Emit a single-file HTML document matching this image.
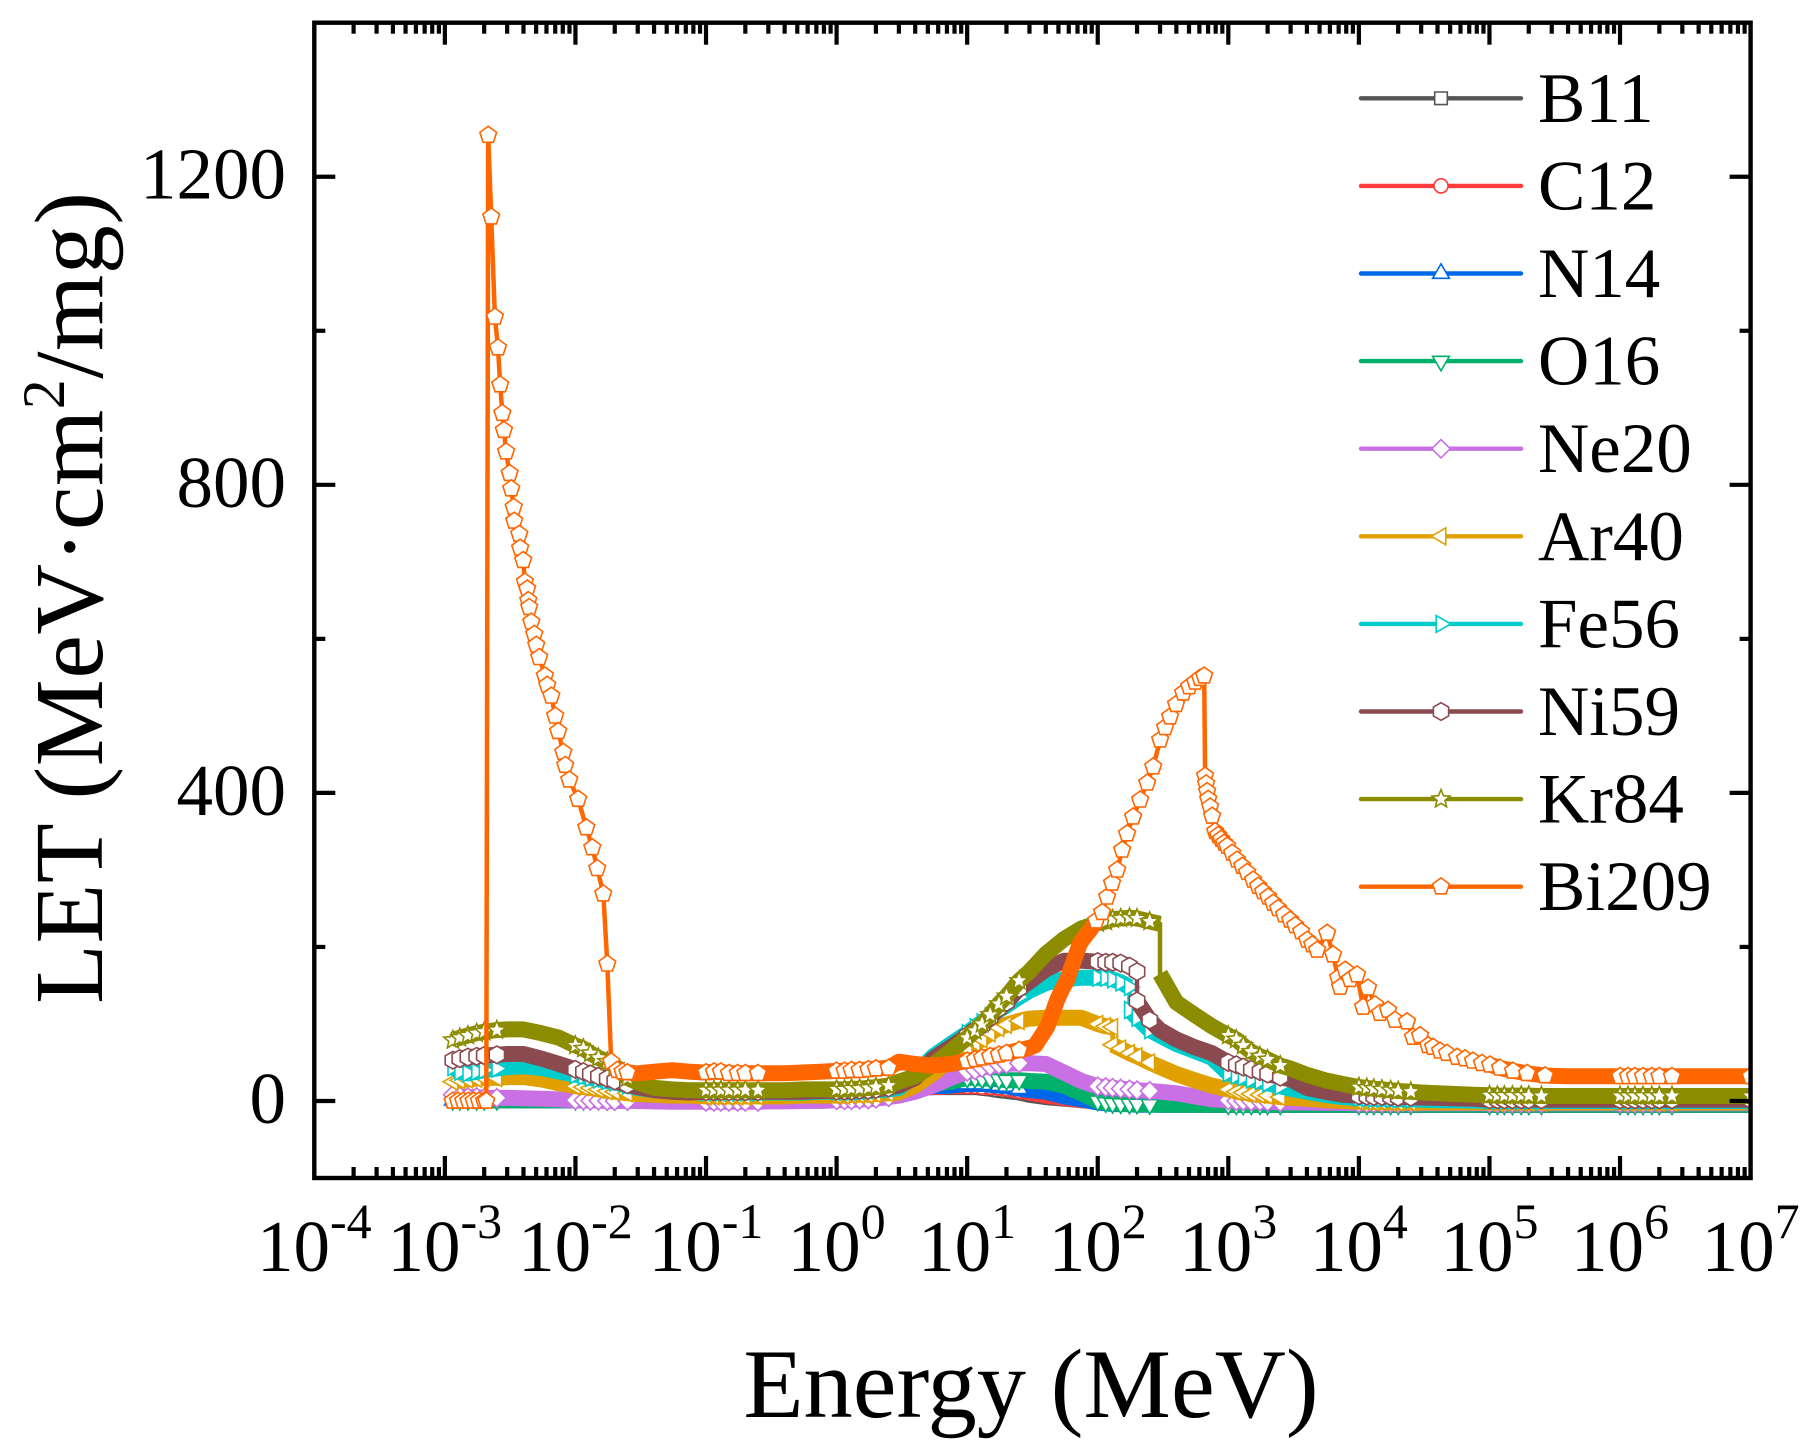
<!DOCTYPE html>
<html>
<head>
<meta charset="utf-8">
<style>
html,body{margin:0;padding:0;background:#fff;width:1819px;height:1451px;overflow:hidden}
svg{display:block;font-family:"Liberation Serif",serif;fill:#000}
</style>
</head>
<body>
<svg id="chart" xmlns="http://www.w3.org/2000/svg" width="1819" height="1451" viewBox="0 0 1819 1451">
<defs><clipPath id="plot-clip"><rect x="314" y="22" width="1437" height="1156"/></clipPath></defs>
<rect x="0" y="0" width="1819" height="1451" fill="#fff"/>
<g id="series-layer" clip-path="url(#plot-clip)"></g>
<g id="axes-layer"></g>
<g id="legend-layer"></g>
<text x="1031" y="1417" font-size="98.5" text-anchor="middle">Energy (MeV)</text>
<text transform="translate(102,598) rotate(-90)" font-size="98" text-anchor="middle" textLength="812">LET (MeV·cm<tspan font-size="60" dy="-38">2</tspan><tspan dy="38">/mg)</tspan></text>
</svg>
<script>
// Axis tick data
const xExponents = [-4,-3,-2,-1,0,1,2,3,4,5,6,7];
const xMinorFactors = [2,3,4,5,6,7,8,9];
const yMajorTicks = [0,400,800,1200];
const yMinorTicks = [200,600,1000];
const xDomain = [-4,7];
const yDomain = [-100,1400];

// Shared energy grid: decades and sub-decade positions (log10 MeV)
const gridDecades = [-3,-2,-1,0,1,2,3,4,5,6];
const gridMantissaLogs = [0,.061,.114,.176,.243,.301,.398,.477,.602,.74,.875];

// LET values (MeV·cm²/mg) on the shared grid
const letB11 = [1,1,1,1,1,1,1,1,1,1,
1,1,1,1,1,1,1,1,1,1,1,
1,1,1.5,2,2,3,3,4,4,5,6,
9,10,11,12,13,14,15,15,17,18,18,
18,18,17,16,14,13,11,8,5,3,1,
0,-1,-1,-2,-2,-3,-3,-4,-4,-4,-5,
-5,-5,-5,-5,-5,-5,-5,-5,-5,-5,-5,
-5,-5,-5,-5,-5,-5,-5,-5,-5,-5,-5,
-5,-5,-5,-5,-5,-5,-5,-5,-5,-5,-5,
-5,-5,-5,-5,-5,-5,-5,-5,-5,-5,-5,
-5];
const letC12 = [1,1,1,1,1,1,1,1,1,1,
1,1,1,1,1,1,1,1,1,1,1,
1,1,1.5,2,2,3,3,4,4,5,6,
9,10,11,12,13,14,15,16,17,18,19,
19,19,18,18,17,16,13,11,7,4,1,
-1,-2,-3,-3,-4,-4,-4,-5,-5,-5,-5,
-5,-5,-5,-5,-5,-5,-5,-5,-5,-5,-5,
-5,-5,-5,-5,-5,-5,-5,-5,-5,-5,-5,
-5,-5,-5,-5,-5,-5,-5,-5,-5,-5,-5,
-5,-5,-5,-5,-5,-5,-5,-5,-5,-5,-5,
-5];
const letN14 = [1,1,1,1,1,1,1,1,1,1,
1,1,1,1,1,1,1,1,1,1,1,
1,1,1.5,2,2,3,3,4,4,5,6,
9,10,11,12,13,14,15,16,17,19,20,
22,22,22,21,20,19,16,14,12,6,2,
-2,-3,-4,-4,-4,-5,-5,-5,-5,-5,-5,
-5,-5,-5,-5,-5,-5,-5,-5,-5,-5,-5,
-5,-5,-5,-5,-5,-5,-5,-5,-5,-5,-5,
-5,-5,-5,-5,-5,-5,-5,-5,-5,-5,-5,
-5,-5,-5,-5,-5,-5,-5,-5,-5,-5,-5,
-5];
const letO16 = [1,1,1,1,1,1,1,1,1,1,
1,1,1,1,1,1,1,1,1,1,1,
1,1,1.5,2,2,3,3,4,4,5,6,
9,10,11,12,13,14,15,17,19,22,25,
30,30,29,29,28,27,27,26,25,20,10,
0,-2,-3,-3.5,-4,-4,-4.5,-5,-5,-5,-5,
-5,-5,-5,-5,-5,-5,-5,-5,-5,-5,-5,
-5,-5,-5,-5,-5,-5,-5,-5,-5,-5,-5,
-5,-5,-5,-5,-5,-5,-5,-5,-5,-5,-5,
-5,-5,-5,-5,-5,-5,-5,-5,-5,-5,-5,
-5];
const letNe20 = [8,6,5,5,4,4,4,3.5,3,2,
1,1,.5,.5,0,0,0,0,-.5,-1,-1,
-1,-1,-1,-1,-1,-1,-1,-.5,-.5,0,0,
1,1,1,2,2,3,5,7,12,20,30,
38,40,43,45,47,48,49,49,48,37,26,
19,18,17,16,15,14,13,12,10,6,2,
1,0,0,-.5,-.5,-1,-1.5,-2,-2,-2.5,-2.5,
-3,-3,-3,-3,-3,-3,-3,-3,-3,-3,-3,
-3,-3,-3,-3,-3,-3,-3,-3,-3,-3,-3,
-3,-3,-3,-3,-3,-3,-3,-3,-3,-3,-3,
-3];
const letAr40 = [25,27,28,29,30,30,31,31,28,23,
19,18,17,15,13,12,10,9,8,7,7,
6,6,6,6,6,6,6,6,6,7,7,
7,7,8,8,8,9,10,11,20,36,55,
68,75,80,88,95,99,104,107,108,108,108,
100,97,96,68,62,58,50,44,35,27,20,
15,12,11,9,8,7,5,4,3,1,0,
-1,-1,-1.5,-1.5,-2,-2,-2,-2,-2,-2,-2,
-2,-2,-2,-2,-2,-2,-2,-2,-2,-2,-2,
-2,-2,-2,-2,-2,-2,-2,-2,-2,-2,-2,
-2];
const letFe56 = [44,38,36,38,40,42,44,45,43,38,
34,32,30,28,26,24,20,17,14,12,12,
11,11,11,11,11,11,11,11,11,11,12,
12,12,12,12,13,14,15,17,35,58,74,
88,96,102,110,118,124,135,143,153,158,160,
160,160,158,154,148,108,92,85,74,65,56,
36,33,31,28,26,23,19,16,12,8,5,
4,3.5,3,3,2.5,2,2,1.5,1,1,.5,
.5,0,0,0,0,0,0,0,0,0,0,
0,0,0,0,0,0,0,0,0,0,0,
0];
const letNi59 = [53,55,57,58,59,60,61,61,55,48,
41,38,35,32,29,26,21,18,14,12,11,
12,12,12,12,12,12,12,12,12,12,13,
13,13,13,14,14,15,17,20,30,55,70,
85,92,98,108,120,128,146,155,171,182,182,
181,180,180,179,175,168,105,92,80,70,62,
50,47,44,41,38,35,31,28,17,12,8,
7,6.5,6,6,5.5,5,5,4.5,4,3.5,3,
1.5,1.5,1.5,1.5,1.5,1.5,1.5,1.5,1.5,1.5,1.5,
1.5,1.5,1.5,1.5,1.5,1.5,1.5,1.5,1.5,1.5,1.5,
1.5];
const letKr84 = [79,82,85,88,90,92,93,93,88,82,
72,68,62,56,51,46,30,24,17,15,14,
14,14,14,14,14,14,14,14,14,15,15,
15,15,16,16,17,18,20,25,32,47,65,
82,91,100,112,126,136,156,168,191,210,224,
231,233,236,237,238,237,233,230,128,112,97,
85,80,72,64,58,54,46,42,34,27,22,
18,17,16,15,14,13,12,11,10,9,8,
7.5,7,7,7,7,7,6.5,6.5,6.5,6.5,6.5,
6.5,6.5,6.5,6.5,6.5,6.5,6.5,6.5,6.5,6.5,6.5,
6.5];

// Vertical drops: [log10 energy, LET after the drop]
const dropAr40 = [2.114,73];
const dropFe56 = [2.243,118];
const dropNi59 = [2.301,130];
const dropKr84 = [2.477,165];

// Bi209 has its own sampling (log10 MeV) because of the low-energy spike
const logEnergyBi209 = [-2.94,-2.9,-2.86,-2.82,-2.78,-2.74,-2.7,-2.683,-2.668,
-2.645,-2.617,-2.593,-2.576,-2.56,-2.548,-2.531,-2.504,-2.492,-2.473,-2.469,-2.43,-2.423,-2.4,-2.387,-2.369,-2.361,-2.354,-2.338,-2.315,-2.3,-2.277,-2.234,-2.216,-2.185,-2.155,-2.132,-2.093,-2.078,-2.047,-1.979,-1.917,-1.871,-1.833,-1.787,-1.756,-1.726,
-1.68,-1.64,-1.602,-1.523,-1.398,-1.26,-1.125,
-1,-.939,-.886,-.824,-.757,-.699,-.602,-.523,-.398,-.26,-.125,
0,.061,.114,.176,.243,.301,.398,.477,.602,.74,.875,
1,1.061,1.114,1.176,1.243,1.301,1.398,1.477,
1.521,1.559,1.613,1.651,1.689,1.727,1.766,1.812,1.865,1.904,1.942,1.988,2.034,2.072,2.11,2.149,2.187,2.225,2.271,2.325,2.379,2.425,2.478,2.516,2.554,2.6,2.654,2.7,2.746,2.784,2.815,
2.822,2.83,2.838,2.846,2.861,2.876,2.899,2.922,2.945,2.968,2.991,3.029,3.067,3.106,3.144,3.19,3.228,3.266,3.305,3.343,3.381,3.427,3.473,3.512,3.558,3.604,3.642,3.68,3.757,3.802,3.841,3.856,3.895,3.933,3.986,
4.032,4.07,4.124,4.162,4.223,4.277,4.369,4.415,4.468,4.53,4.568,4.622,4.675,4.752,4.813,4.874,4.943,
5.005,5.081,5.181,5.288,5.426,5.594,5.74,5.875,
6,6.061,6.114,6.176,6.243,6.301,6.398,6.477,6.602,6.74,6.875,7];
const letBi209 = [0,0,0,0,0,0,0,0,1254,
1148,1018,978,930,893,871,843,815,795,771,753,736,718,702,674,665,650,641,622,606,592,576,552,540,526,500,480,453,436,417,392,355,329,302,269,178,51,
40,38,37,36,38,40,38,
37,38,38,36,36,36,36,36,36,37,38,
39,39,40,40,41,42,43,51,48,46,48,
52,54,56,58,60,62,66,69,
72,82,96,113,131,145,157,180,205,214,222,234,245,265,283,300,326,347,369,391,413,434,469,485,499,515,530,538,544,549,552,
422,412,402,392,382,370,350,345,340,335,331,322,313,305,297,287,279,272,265,257,250,242,235,228,220,209,203,196,218,190,160,148,170,158,164,
122,147,125,114,118,105,103,83,85,72,70,65,62,57,55,52,49,
47,43,39,36,33,32,32,32,
32,32,32,32,32,32,32,32,32,32,32,32];
// Energy ranges (log10 MeV) where Bi209's markers stay individually visible
const openRangesBi209 = [[-2.95,-1.65],[1.95,4.95]];

// Series labels and styling
const seriesNames = ['B11','C12','N14','O16','Ne20','Ar40','Fe56','Ni59','Kr84','Bi209'];
const seriesColors = ['#555555','#ff3b3b','#0068e8','#00b06b','#c870e4','#e0a000','#00cccc','#8b4a50','#8c8c00','#ff6600'];
const seriesMarkers = ['square','circle','up','down','diamond','left','right','hexagon','star','pentagon'];
const seriesValues = [letB11,letC12,letN14,letO16,letNe20,letAr40,letFe56,letNi59,letKr84,letBi209];
const seriesDrops = [null,null,null,null,null,dropAr40,dropFe56,dropNi59,dropKr84,null];

const SVGNS = 'http://www.w3.org/2000/svg';
const plot = {left:314.3,right:1750.6,top:22.7,bottom:1178};
function xOfLog(l){return plot.left+(l-xDomain[0])/(xDomain[1]-xDomain[0])*(plot.right-plot.left);}
function yOf(v){return plot.bottom-(v-yDomain[0])/(yDomain[1]-yDomain[0])*(plot.bottom-plot.top);}
function make(tag,attrs,parent){
  const e=document.createElementNS(SVGNS,tag);
  for(const k in attrs){e.setAttribute(k,attrs[k]);}
  parent.appendChild(e);
  return e;
}
function markerPoints(kind,r){
  const poly=(n,rad,rot)=>{const p=[];for(let i=0;i<n;i++){const a=rot+i*2*Math.PI/n;p.push([rad*Math.cos(a),rad*Math.sin(a)]);}return p;};
  if(kind==='square')return poly(4,r*1.02,Math.PI/4);
  if(kind==='up')return poly(3,r*1.1,-Math.PI/2);
  if(kind==='down')return poly(3,r*1.1,Math.PI/2);
  if(kind==='left')return poly(3,r*1.1,Math.PI);
  if(kind==='right')return poly(3,r*1.1,0);
  if(kind==='diamond')return poly(4,r*1.05,0);
  if(kind==='hexagon')return poly(6,r,-Math.PI/2);
  if(kind==='pentagon')return poly(5,r,-Math.PI/2);
  const p=[];for(let i=0;i<10;i++){const a=-Math.PI/2+i*Math.PI/5,q=(i%2?r*.48:r*1.08);p.push([q*Math.cos(a),q*Math.sin(a)]);}
  return p;
}
function drawMarker(parent,kind,cx,cy,r,color){
  let m;
  if(kind==='circle'){
    m=make('circle',{cx:cx,cy:cy,r:r*.8,fill:'#fff',stroke:color,'stroke-width':1.6},parent);
  }else{
    const pts=markerPoints(kind,r).map(p=>(cx+p[0]).toFixed(1)+','+(cy+p[1]).toFixed(1)).join(' ');
    m=make('polygon',{points:pts,fill:'#fff',stroke:color,'stroke-width':1.6},parent);
  }
  return m;
}
const gridLogs=[];
gridDecades.forEach(d=>gridMantissaLogs.forEach(m=>{if(!(d===-3&&m===0))gridLogs.push(d+m);}));
gridLogs.push(7);

const seriesLayer=document.getElementById('series-layer');
function inOpen(l,ranges){return ranges.some(r=>l>=r[0]&&l<=r[1]);}
seriesNames.forEach((name,si)=>{
  const color=seriesColors[si],kind=seriesMarkers[si],values=seriesValues[si],drop=seriesDrops[si];
  const logs=si===9?logEnergyBi209:gridLogs;
  const open=si===9?openRangesBi209:[];
  const pts=[];
  logs.forEach((l,i)=>{
    pts.push([l,values[i]]);
    if(drop&&Math.abs(l-drop[0])<1e-6)pts.push([l,drop[1]]);
  });
  const g=make('g',{},seriesLayer);
  
  
  const lineD=pts.map((p,i)=>(i?'L':'M')+xOfLog(p[0]).toFixed(1)+' '+yOf(p[1]).toFixed(1)).join('');
  const line=make('path',{d:lineD,fill:'none',stroke:color,'stroke-width':4.5,'stroke-linejoin':'round'},g);
  
  
  let bandD='',pen=false;
  const isDense=l=>{const f=l-Math.floor(l+1e-9);return f>=.45&&!inOpen(l,open);};
  for(let i=0;i<pts.length-1;i++){
    const a=pts[i],b=pts[i+1];
    if(!inOpen(a[0],open)&&b[0]>a[0]){
      if(!pen){bandD+='M'+xOfLog(a[0]).toFixed(1)+' '+yOf(a[1]).toFixed(1);pen=true;}
      bandD+='L'+xOfLog(b[0]).toFixed(1)+' '+yOf(b[1]).toFixed(1);
    }else pen=false;
  }
  const band=make('path',{d:bandD,fill:'none',stroke:color,'stroke-width':16,'stroke-linejoin':'round'},g);
  
  
  pts.forEach(p=>{
    if(isDense(p[0]))return;
    const m=drawMarker(g,kind,xOfLog(p[0]),yOf(p[1]),8.8,color);
    
    
  });
});

// Axes
const axes=document.getElementById('axes-layer');
function tick(x1,y1,x2,y2,nm){
  const t=make('line',{x1:x1,y1:y1,x2:x2,y2:y2,stroke:'#000','stroke-width':4.2},axes);
  
  
}
const frame=make('rect',{x:plot.left,y:plot.top,width:plot.right-plot.left,height:plot.bottom-plot.top,fill:'none',stroke:'#000','stroke-width':4.4,'stroke-linejoin':'miter'},axes);


xExponents.forEach(ex=>{
  const x=xOfLog(ex);
  if(ex>xDomain[0]&&ex<xDomain[1]){
    tick(x,plot.bottom,x,plot.bottom-22,'x-major-tick');
    tick(x,plot.top,x,plot.top+22,'x-major-tick-top');
  }
  if(ex<xDomain[1])xMinorFactors.forEach(f=>{
    const mx=xOfLog(ex+Math.log10(f));
    tick(mx,plot.bottom,mx,plot.bottom-11,'x-minor-tick');
    tick(mx,plot.top,mx,plot.top+11,'x-minor-tick-top');
  });
  const label=make('text',{x:x,y:1271,'font-size':73,'text-anchor':'middle'},axes);
  
  
  const base=make('tspan',{},label);base.textContent='10';
  const sup=make('tspan',{'font-size':50,dy:-33},label);sup.textContent=String(ex);
});
yMajorTicks.forEach(v=>{
  const y=yOf(v);
  tick(plot.left,y,plot.left+21,y,'y-major-tick');
  tick(plot.right,y,plot.right-21,y,'y-major-tick-right');
  const label=make('text',{x:286,y:y+22,'font-size':73,'text-anchor':'end'},axes);
  
  
  label.textContent=String(v);
});
yMinorTicks.forEach(v=>{
  const y=yOf(v);
  tick(plot.left,y,plot.left+11,y,'y-minor-tick');
  tick(plot.right,y,plot.right-11,y,'y-minor-tick-right');
});

// Legend
const legendLayer=document.getElementById('legend-layer');
const legendFirstY=98.3,legendStep=87.6;
seriesNames.forEach((name,i)=>{
  const y=legendFirstY+i*legendStep;
  const g=make('g',{},legendLayer);
  
  
  const l=make('line',{x1:1361,y1:y,x2:1521,y2:y,stroke:seriesColors[i],'stroke-width':4.4,'stroke-linecap':'round'},g);
  
  
  const m=drawMarker(g,seriesMarkers[i],1441,y,8.8,seriesColors[i]);
  
  
  const t=make('text',{x:1538,y:y+23.5,'font-size':71},g);
  
  
  t.textContent=name;
});
</script>
</body>
</html>
